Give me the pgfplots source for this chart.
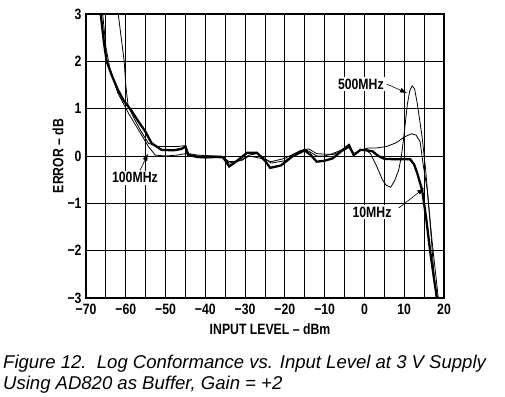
\documentclass[border=0pt]{standalone}
\usepackage{fontspec}
\setmainfont{Liberation Sans}
\newfontfamily\nb[FakeStretch=0.82]{Liberation Sans}
\usepackage{pgfplots}
\pgfplotsset{compat=1.18}
\usetikzlibrary{arrows.meta}
\begin{document}
\begin{tikzpicture}[x=1bp,y=1bp]
\useasboundingbox (-86,-98) rectangle (419,298);
\begin{axis}[
  at={(0,0)}, anchor=south west,
  scale only axis, width=358bp, height=284bp,
  xmin=-70, xmax=20, ymin=-3, ymax=3,
  xtick={-70,-60,...,20},
  xticklabels={−70,−60,−50,−40,−30,−20,−10,0,10,20},
  ytick={-3,-2,...,3},
  yticklabels={−3,−2,−1,0,1,2,3},
  minor x tick num=1,
  grid=both,
  major grid style={black, line width=1pt},
  minor grid style={black, line width=1pt},
  major tick length=0pt, minor tick length=0pt,
  axis line style={black, line width=1.3pt},
  tick label style={font=\fontsize{15}{17}\nb\bfseries},
  xticklabel style={yshift=-3bp},
  yticklabel style={xshift=-1bp},
  clip=true,
]
% 10 MHz (thick)
\addplot[black, line width=2.3pt] coordinates {
(-66.6,3.2) (-66.3,3.0) (-65.5,2.4) (-64.8,2.0) (-63.5,1.7) (-62,1.4) (-60.5,1.17) (-58.5,0.95) (-57,0.75) (-55.1,0.52) (-53.5,0.27) (-51,0.13) (-48,0.12) (-46,0.15) (-45,0.2) (-44.3,0.02) (-42,-0.02) (-40,-0.03) (-37,-0.02) (-35.5,-0.03) (-34,-0.22) (-32,-0.1) (-29.5,0.07) (-27,0.07) (-25,-0.1) (-23.7,-0.25) (-21,-0.2) (-18,0.0) (-15,0.12) (-13.5,0.02) (-12,-0.12) (-10,-0.1) (-8,-0.05) (-6,0.09) (-3.9,0.23) (-2.7,0.02) (-1,0.13) (0.5,0.12) (2,0.1) (3.5,0.0) (5,-0.06) (8,-0.07) (11.5,-0.07) (12.5,-0.18) (13.3,-0.37) (14.5,-0.72) (15.5,-1.3) (16.5,-2.0) (17.5,-2.6) (18.4,-3.1)
};
% 100 MHz (thin)
\addplot[black, line width=0.8pt] coordinates {
(-66.1,3.2) (-65.8,3.0) (-65,2.3) (-64,1.85) (-62,1.33) (-59.3,0.9) (-56.8,0.55) (-54.3,0.2) (-52.6,0.02) (-50,0.0) (-47,0.02) (-45,0.05) (-42,0.0) (-36,0.0) (-34,-0.12) (-31,-0.1) (-29,0.0) (-26,-0.05) (-23.5,-0.12) (-20,-0.05) (-16,0.12) (-14,0.15) (-12,0.05) (-8,0.03) (-5,0.12) (-4,0.18) (-2.5,0.05) (-1,0.12) (1,0.17) (3,0.17) (5.5,0.2) (8,0.28) (10,0.4) (11.8,0.47) (13,0.44) (14,0.3) (14.8,-0.2) (15.8,-0.72) (17,-1.8) (18.7,-3.1)
};
% 500 MHz (thin)
\addplot[black, line width=0.8pt] coordinates {
(-62.0,3.2) (-61.9,3.0) (-61,2.4) (-60.4,2.0) (-60,1.5) (-59.4,1.05) (-57.7,0.76) (-56,0.5) (-54.3,0.27) (-52,0.2) (-50,0.2) (-47,0.2) (-45,0.22) (-44.2,0.05) (-42,0.02) (-38,0.0) (-35.5,-0.02) (-34,-0.15) (-31,-0.08) (-29,0.02) (-27,0.05) (-25,-0.05) (-23.5,-0.15) (-20,-0.1) (-17,0.05) (-15,0.15) (-12,0.0) (-10,0.0) (-8,0.05) (-6,0.12) (-4,0.22) (-2.7,0.05) (-1,0.12) (0.5,0.12) (1.5,0.05) (3,-0.2) (4.5,-0.5) (5.5,-0.62) (6.6,-0.66) (7.6,-0.52) (8.6,-0.3) (9.3,0.0) (9.9,0.41) (10.8,1.1) (11.4,1.38) (12,1.48) (12.6,1.42) (13.3,1.1) (13.9,0.75) (14.5,0.4) (15.4,-0.3) (16.5,-1.4) (17.3,-2.3) (18.1,-3.1)
};
% annotations
\node[fill=white, inner sep=1.5bp, font=\fontsize{15}{17}\nb\bfseries] at (axis cs:-0.9,1.52) {500MHz};
\draw[line width=0.6pt, -{Latex[length=7bp,width=5bp]}] (axis cs:5.6,1.52) -- (axis cs:10.7,1.33);
\node[fill=white, inner sep=1.5bp, font=\fontsize{15}{17}\nb\bfseries] at (axis cs:-57.7,-0.46) {100MHz};
\draw[line width=0.6pt, -{Latex[length=7bp,width=5bp]}] (axis cs:-56.4,-0.3) -- (axis cs:-54.4,0.05);
\node[fill=white, inner sep=1.5bp, font=\fontsize{15}{17}\nb\bfseries] at (axis cs:1.9,-1.18) {10MHz};
\draw[line width=0.6pt, -{Latex[length=7bp,width=5bp]}] (axis cs:8.6,-1.1) -- (axis cs:15,-0.68);
\end{axis}
\node[font=\fontsize{15}{17}\nb\bfseries] at (184,-31) {INPUT LEVEL – dBm};
\node[font=\fontsize{15}{17}\nb\bfseries, rotate=90] at (-28,142) {ERROR – dB};
\node[anchor=base west, font=\fontsize{18.6}{22}\itshape, inner sep=0pt] at (-83,-70) {Figure 12.\ \ Log Conformance vs. Input Level at 3 V Supply};
\node[anchor=base west, font=\fontsize{18.6}{22}\itshape, inner sep=0pt] at (-83,-91) {Using AD820 as Buffer, Gain = +2};
\end{tikzpicture}
\end{document}
